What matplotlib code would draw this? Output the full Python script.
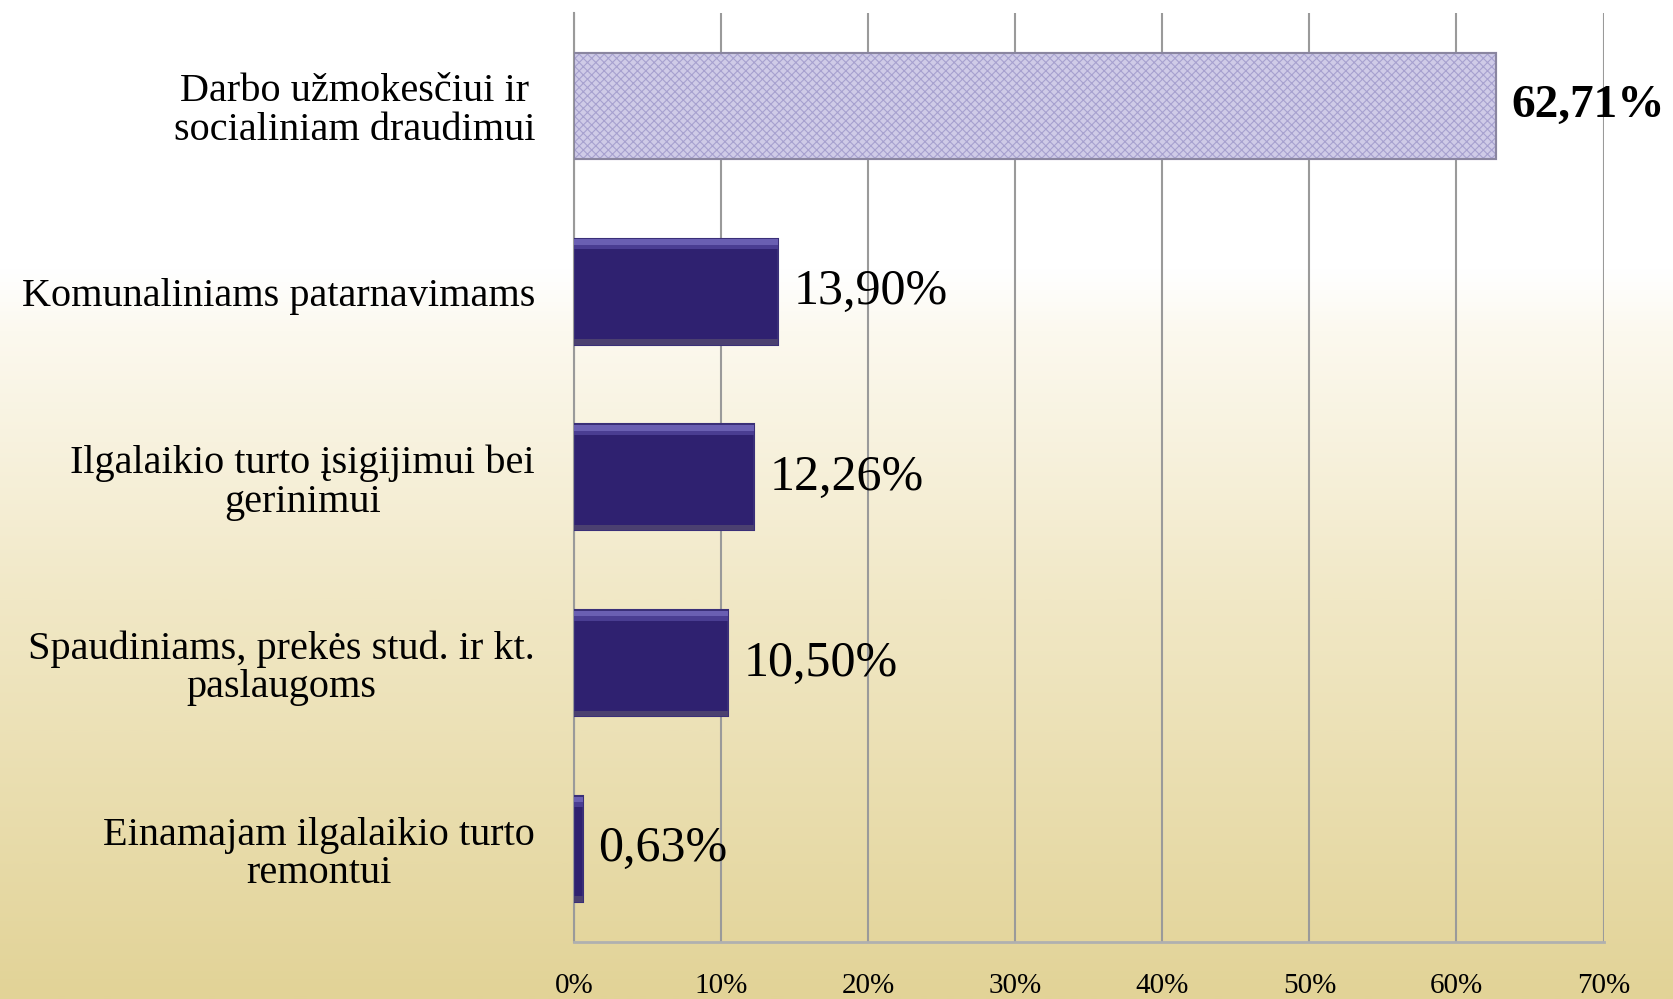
import numpy as np
import matplotlib
matplotlib.use("Agg")
import matplotlib.pyplot as plt
from matplotlib.colors import LinearSegmentedColormap

categories = [
    "Darbo užmokesčiui ir\nsocialiniam draudimui",
    "Komunaliniams patarnavimams",
    "Ilgalaikio turto įsigijimui bei\ngerinimui",
    "Spaudiniams, prekės stud. ir kt.\npaslaugoms",
    "Einamajam ilgalaikio turto\nremontui",
]
values = [62.71, 13.90, 12.26, 10.50, 0.63]
value_labels = ["62,71%", "13,90%", "12,26%", "10,50%", "0,63%"]
xticks = [0, 10, 20, 30, 40, 50, 60, 70]
xtick_labels = ["0%", "10%", "20%", "30%", "40%", "50%", "60%", "70%"]

plt.rcParams['font.family'] = ['Liberation Serif', 'DejaVu Serif']
plt.rcParams['hatch.color'] = "#a7a1cf"
plt.rcParams['hatch.linewidth'] = 0.8

fig = plt.figure(figsize=(16.73, 9.99), dpi=100)

# background gradient
bg = fig.add_axes([0, 0, 1, 1], zorder=-10)
cmap = LinearSegmentedColormap.from_list(
    "bg", [(0.0, "#ffffff"), (0.27, "#ffffff"), (0.33, "#fcf9ef"),
           (0.6, "#f1e8c6"), (1.0, "#e2d397")])
grad = np.linspace(0, 1, 500).reshape(-1, 1)
bg.imshow(grad, aspect="auto", cmap=cmap, extent=[0, 1, 0, 1], origin="upper")
bg.set_axis_off()

ax = fig.add_axes([0.3431, 0.0571, 0.6154, 0.930])
ax.patch.set_alpha(0)

y = np.arange(len(categories))
h = 0.57
colors = ["#cfcbe7"] + ["#2f2170"] * 4
bars = ax.barh(y, values, height=h, color=colors, edgecolor="#3a2f78",
               linewidth=1.5, zorder=3)
bars[0].set_hatch("xxxx")
bars[0].set_edgecolor("#a7a1cf")
# outline for hatched bar
ax.barh(y[:1], values[:1], height=h, color="none", edgecolor="#8a86a0",
        linewidth=1.5, zorder=4)
# bevel highlight / shadow on dark bars
ax.barh(y[1:] - h / 2 + 0.018, values[1:], height=0.03, color="#6a5fb2",
        linewidth=0, zorder=4)
ax.barh(y[1:] - h / 2 + 0.045, values[1:], height=0.025, color="#4a3d92",
        linewidth=0, zorder=4)
ax.barh(y[1:] + h / 2 - 0.015, values[1:], height=0.03, color="#4b4070",
        linewidth=0, zorder=4)

for i, (v, lab) in enumerate(zip(values, value_labels)):
    ax.annotate(lab, (v, i), xytext=(11, 0), textcoords="offset points",
                va="center", ha="left",
                fontsize=34 if i == 0 else 36,
                fontweight="bold" if i == 0 else "normal",
                color="black", zorder=6)

ax.set_xlim(0, 70)
ax.set_ylim(4.5, -0.5)
ax.set_xticks(xticks)
ax.set_xticklabels(xtick_labels, fontsize=21)
ax.set_yticks(y)
ax.set_yticklabels(categories, fontsize=29, linespacing=1.05,
                   multialignment="center")
ax.tick_params(axis="y", length=0, pad=28)
ax.tick_params(axis="x", length=0, pad=22)
ax.grid(axis="x", color="#9a9a9a", linewidth=1.5, zorder=1)
ax.set_axisbelow(True)
for s in ["top", "right"]:
    ax.spines[s].set_visible(False)
ax.spines["left"].set_color("#9a9a9a")
ax.spines["left"].set_linewidth(1.5)
ax.spines["bottom"].set_color("#b0b0b0")
ax.spines["bottom"].set_linewidth(2)

fig.savefig("out.png", dpi=100)
